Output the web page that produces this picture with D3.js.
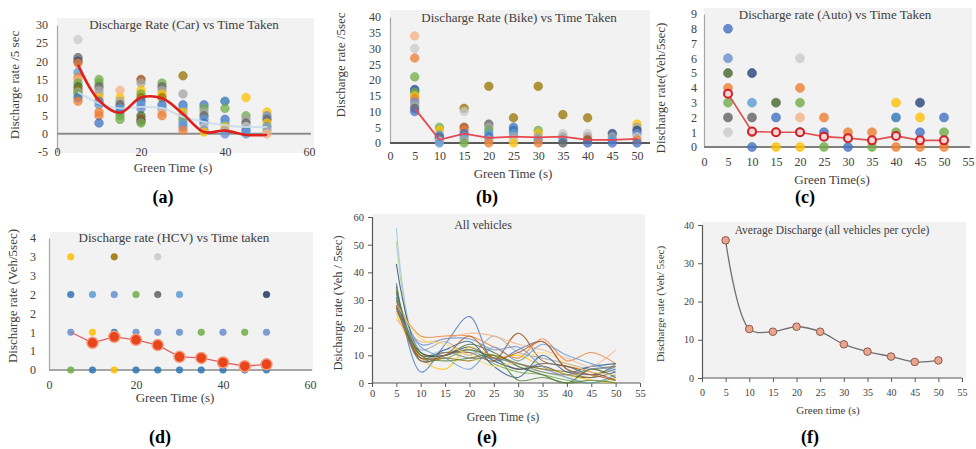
<!DOCTYPE html>
<html><head><meta charset="utf-8">
<script src="https://cdn.jsdelivr.net/npm/d3@7"></script>
<style>
body{margin:0;background:#fff}
svg{display:block}
text{font-family:"Liberation Serif","Times New Roman",serif;fill:#404040}
</style>
</head><body>
<svg id="c" width="976" height="449"></svg>
<script>
const greenTimes = [5,10,15,20,25,30,35,40,45,50];
const palette = ["#4472C4","#ED7D31","#A5A5A5","#FFC000","#5B9BD5","#70AD47","#264478","#9E480E",
  "#636363","#997300","#698ED0","#43682B","#F4B183","#C9C9C9","#1F3864","#2E75B6"];

// [green time, value, colour index]
const carPoints = [
 [5,26,13],[5,21,8],[5,20,6],[5,19.5,1],[5,17,4],[5,15.5,1],[5,15,12],[5,14,5],[5,13,11],[5,12,9],[5,11.5,2],[5,11,5],[5,10,0],[5,9,1],
 [10,15,5],[10,14,5],[10,13,8],[10,12,2],[10,11,2],[10,10,3],[10,9,0],[10,8,4],[10,6,1],[10,5,1],[10,3,0],
 [15,12,12],[15,10,3],[15,9,2],[15,8,8],[15,7,4],[15,6,0],[15,5,5],[15,4,5],
 [20,15,7],[20,14,2],[20,12,3],[20,11,5],[20,10,9],[20,9,0],[20,8,4],[20,7,10],[20,5,11],[20,4,7],[20,3.5,8],[20,3,5],
 [25,14,5],[25,13,8],[25,12,2],[25,11,3],[25,10,9],[25,8,0],[25,7,4],[25,6,12],[25,5,1],
 [30,16,9],[30,11,2],[30,8,0],[30,7,4],[30,6,3],[30,5,2],[30,4,5],[30,3,4],[30,2,10],[30,1,1],
 [35,8,0],[35,7,5],[35,6,2],[35,5,8],[35,4,4],[35,3,0],[35,2,13],[35,1,10],[35,0.5,3],
 [40,9,15],[40,7,5],[40,4,0],[40,3,4],[40,2,3],[40,1,2],[40,0,10],
 [45,10,3],[45,5,5],[45,4,2],[45,3,8],[45,2,13],[45,1,0],[45,0,4],
 [50,6,3],[50,5,10],[50,4,8],[50,3,3],[50,2,4],[50,1,2],[50,0,12]
];
const carTrend = [19,9.2,5.8,10,9.8,5.5,0.5,0.9,-0.3,-0.3];
const carMean  = [11.5,8.4,7,7.4,7.1,4.7,3.3,2.4,1.9,1.9];

const bikePoints = [
 [5,34,12],[5,30,13],[5,27,1],[5,21,5],[5,17,6],[5,16.5,0],[5,16,5],[5,15,3],[5,14,1],[5,13,10],[5,12,2],[5,11,8],[5,10,0],
 [10,5,5],[10,4,3],[10,2.5,4],[10,2,0],[10,1.5,8],[10,1,10],[10,0.5,13],[10,0,4],
 [15,11,9],[15,10,13],[15,5,7],[15,4,1],[15,3,0],[15,2,4],[15,1,2],[15,0,5],
 [20,18,9],[20,6,8],[20,5,2],[20,4,5],[20,3,4],[20,2,0],[20,1,2],[20,0,1],
 [25,8,9],[25,5,0],[25,4,15],[25,3,4],[25,2,2],[25,1,13],[25,0,3],
 [30,18,9],[30,4,5],[30,3,3],[30,2,2],[30,1,4],[30,0,1],
 [35,9,9],[35,3,13],[35,2,2],[35,1,4],[35,0,8],
 [40,8,9],[40,3,13],[40,2,2],[40,1,7],[40,0,0],
 [45,3,6],[45,2,2],[45,1,4],[45,0,0],
 [50,6,3],[50,5,2],[50,4,6],[50,3,10],[50,2,13],[50,1,1],[50,0,0]
];
const bikeTrend = [11,1,3,1.6,2,1.8,2,1,1,1.3];

const autoPoints = [
 [5,8,0],[5,6,10],[5,5,11],[5,4,1],[5,3,5],[5,2,8],[5,1,13],
 [10,5,6],[10,3,4],[10,2,8],[10,1,1],[10,0,0],
 [15,3,11],[15,2,0],[15,1,1],[15,0,3],
 [20,6,13],[20,4,1],[20,3,5],[20,2,12],[20,1,0],[20,0,3],
 [25,2,1],[25,1,0],[25,0,5],
 [30,1,1],[30,0,0],
 [35,1,1],[35,0,5],
 [40,3,3],[40,2,15],[40,1,5],[40,0,1],
 [45,3,6],[45,2,3],[45,1,0],[45,0,1],
 [50,2,0],[50,1,5],[50,0,1]
];
const autoTrend = [3.6,1.05,1.0,1.0,0.7,0.6,0.45,0.75,0.45,0.45];

const hcvPoints = [
 [5,3,3],[5,2,15],[5,1,10],[5,0,5],
 [10,2,4],[10,1,3],[10,0,15],
 [15,3,9],[15,2,10],[15,1,15],[15,0,3],
 [20,2,5],[20,1,10],[20,0,15],
 [25,3,13],[25,2,8],[25,1,10],[25,0,15],
 [30,2,4],[30,1,10],[30,0,15],
 [35,1,5],[35,0,15],
 [40,1,10],[40,0,15],
 [45,1,5],[45,0,15],
 [50,2,14],[50,1,10],[50,0,15]
];
const hcvTrend = [1.0,0.72,0.88,0.8,0.66,0.35,0.32,0.2,0.1,0.15];

const allColors = ["#9DC3E6","#A9D18E","#264478","#4472C4","#70AD47","#ED7D31","#9E480E","#FFC000","#A5A5A5","#997300",
  "#255E91","#43682B","#F4B183","#698ED0","#636363","#FFD966","#5B9BD5","#548235","#C55A11","#7F7F7F"];
const allSeries = [
 [56,10,12,11,9,7,5,3,6,5],
 [51,9,11,12,10,6,4,2,0,1],
 [43,11,10,13,8,5,6,3,2,4],
 [36,4,14,24,8,12,15,5,3,6],
 [34,10,9,12,7,4,3,1,0,2],
 [29,17,17,17,13,9,16,8,11,7],
 [28,10,11,11,8,18,8,6,4,1],
 [25,9,5,13,9,10,6,3,1,0],
 [30,12,15,10,17,11,9,7,5,6],
 [33,8,9,8,10,7,5,4,2,7],
 [31,9,12,15,6,2,10,4,6,7],
 [27,11,10,14,11,6,3,0,5,2],
 [23,15,16,18,17,14,12,9,6,12],
 [32,14,16,16,12,13,6,2,0,3],
 [35,8,10,12,9,5,7,6,3,5],
 [29,16,14,10,6,8,11,7,4,3],
 [26,13,9,5,13,8,14,10,7,4],
 [33,10,8,9,10,1,2,0,1,0],
 [28,9,10,17,9,11,15,5,3,1],
 [30,8,11,9,9,7,4,3,5,6]
];
const avgDischarge = [36,12.8,12.1,13.4,12.1,8.8,6.9,5.6,4.2,4.6];

const ticksA_x=[0,20,40,60], ticksA_y=[-5,0,5,10,15,20,25,30];
const ticksB_x=d3.range(0,55,5), ticksB_y=d3.range(0,45,5);
const ticksC_x=d3.range(0,60,5), ticksC_y=d3.range(0,10,1);
const ticksD_x=[0,20,40,60], ticksD_y=[0,0.5,1,1.5,2,2.5,3,3.5];
const ticksE_x=d3.range(0,60,5), ticksE_y=[0,10,20,30,40,50,60];
const ticksF_x=d3.range(0,60,5), ticksF_y=[0,10,20,30,40];

const svg = d3.select("#c");

function panel(o){
  const x = d3.scaleLinear().domain(o.xd).range(o.xr);
  const y = d3.scaleLinear().domain(o.yd).range(o.yr);
  const g = svg.append("g");
  g.append("rect").attr("x",o.bg[0]).attr("y",o.bg[1]).attr("width",o.bg[2]-o.bg[0]).attr("height",o.bg[3]-o.bg[1]).attr("fill","#F2F2F2");
  // y axis
  const ya = d3.axisLeft(y).tickValues(o.yt).tickSize(o.tick||0).tickPadding(o.ypad).tickFormat(o.yfmt||(d=>d));
  const yg = g.append("g").attr("transform",`translate(${o.xr[0]},0)`).call(ya);
  yg.select(".domain").attr("stroke",o.ycol||"#A6A6A6").attr("stroke-width",1.2);
  yg.selectAll(".tick line").attr("stroke","#595959");
  yg.selectAll("text").attr("font-size",o.fs).attr("font-family",'"Liberation Serif",serif').attr("fill",o.tcol||"#404040");
  // x axis labels
  const xa = d3.axisBottom(x).tickValues(o.xt).tickSize(o.tick||0).tickPadding(0).tickFormat(d=>d);
  const xg = g.append("g").attr("transform",`translate(0,${o.xaxisY})`).call(xa);
  xg.select(".domain").remove();
  xg.selectAll(".tick line").attr("stroke","#595959");
  xg.selectAll("text").attr("font-size",o.fs).attr("font-family",'"Liberation Serif",serif').attr("fill",o.tcol||"#404040")
    .attr("dy",null).attr("y",o.xlabY-o.xaxisY);
  // baseline axis line
  g.append("line").attr("x1",o.xr[0]).attr("x2",o.lineEnd).attr("y1",y(o.base)).attr("y2",y(o.base))
    .attr("stroke",o.baseCol).attr("stroke-width",o.baseW);
  // titles
  g.append("text").attr("x",o.title[0]).attr("y",o.title[1]).attr("text-anchor","middle").attr("font-size",o.title[3]).text(o.title[2]);
  g.append("text").attr("x",o.xtitle[0]).attr("y",o.xtitle[1]).attr("text-anchor","middle").attr("font-size",o.xtitle[3]).text(o.xtitle[2]);
  g.append("text").attr("transform",`translate(${o.ytitle[0]},${o.ytitle[1]}) rotate(-90)`).attr("text-anchor","middle")
    .attr("dominant-baseline","central").attr("font-size",o.ytitle[3]).text(o.ytitle[2]);
  g.append("text").attr("x",o.lab[0]).attr("y",o.lab[1]).attr("text-anchor","middle").attr("font-size",18)
    .attr("font-weight","bold").attr("fill","#000").style("fill","#000").text(o.lab[2]);
  return {x,y,g};
}

function scatter(p, pts, r, op){
  p.g.append("g").selectAll("circle").data(pts).join("circle")
   .attr("cx",d=>p.x(d[0])).attr("cy",d=>p.y(d[1])).attr("r",r)
   .attr("fill",d=>palette[d[2]]).attr("fill-opacity",op).attr("stroke",d=>palette[d[2]]).attr("stroke-opacity",0.5).attr("stroke-width",1);
}
function line(p, vals, col, w, curve, op){
  const gen = d3.line().x((d,i)=>p.x(greenTimes[i])).y(d=>p.y(d)).curve(curve);
  p.g.append("path").attr("d",gen(vals)).attr("fill","none").attr("stroke",col).attr("stroke-width",w).attr("stroke-opacity",op||1);
}

// (a)
const A = panel({xd:[0,60],xr:[57,309],yd:[-5,30],yr:[152,25],bg:[57,18,314,153],yt:ticksA_y,xt:ticksA_x,ypad:9,fs:12,
  xaxisY:152,xlabY:156,base:0,baseCol:"#8C8C8C",baseW:2,lineEnd:311,
  title:[184,29,"Discharge Rate (Car) vs Time Taken",13],xtitle:[173,172,"Green Time (s)",13],
  ytitle:[14,85,"Discharge rate /5 sec",13],lab:[163,203,"(a)"]});
scatter(A, carPoints, 4.3, 0.75);
line(A, carMean, "#C9DCEC", 2, d3.curveCatmullRom.alpha(0.5), 0.9);
line(A, carTrend, "#E0201B", 2.6, d3.curveCatmullRom.alpha(0.5));

// (b)
const B = panel({xd:[0,50],xr:[390,637],yd:[0,40],yr:[143,17],bg:[390,10,650,144],yt:ticksB_y,xt:ticksB_x,ypad:9,fs:12,
  xaxisY:143,xlabY:160,base:0,baseCol:"#595959",baseW:2,lineEnd:650,
  title:[519,22,"Discharge Rate (Bike) vs Time Taken",13],xtitle:[513,178,"Green Time (s)",13],
  ytitle:[340,65,"Discharge rate /5sec",13],lab:[487,203,"(b)"]});
scatter(B, bikePoints, 4.3, 0.75);
line(B, bikeTrend, "#E8484E", 1.8, d3.curveLinear);

// (c)
const C = panel({xd:[0,55],xr:[704,968],yd:[0,9],yr:[147,14],bg:[704,8,972,148],yt:ticksC_y,xt:ticksC_x,ypad:7,fs:12,
  xaxisY:147,xlabY:166,base:0,baseCol:"#7F7F7F",baseW:2,lineEnd:970,
  title:[835,19,"Discharge rate (Auto) vs Time Taken",13],xtitle:[832,184,"Green Time(s)",13],
  ytitle:[660,88,"Discharge rate(Veh/5sec)",13],lab:[805,203,"(c)"]});
scatter(C, autoPoints, 4.5, 0.8);
line(C, autoTrend, "#E05050", 1.6, d3.curveLinear);
C.g.append("g").selectAll("circle").data(autoTrend).join("circle")
  .attr("cx",(d,i)=>C.x(greenTimes[i])).attr("cy",d=>C.y(d)).attr("r",4)
  .attr("fill","#F6D5D5").attr("stroke","#D0202A").attr("stroke-width",2);

// (d)
const D = panel({xd:[0,60],xr:[49,310],yd:[0,3.5],yr:[370,238],bg:[50,232,313,371],yt:ticksD_y,xt:ticksD_x,ypad:13,fs:12,
  yfmt:d=>Math.round(d+1e-9),
  xaxisY:370,xlabY:389,base:0,baseCol:"#A6A6A6",baseW:2,lineEnd:312,
  title:[174,242,"Discharge rate (HCV) vs Time taken",13],xtitle:[175,402,"Green Time (s)",13],
  ytitle:[12,296,"Discharge rate  (Veh/5sec)",13],lab:[160,443,"(d)"]});
scatter(D, hcvPoints, 3.3, 0.85);
line(D, hcvTrend, "#E06060", 1.3, d3.curveLinear);
D.g.append("g").selectAll("circle").data(hcvTrend.slice(1)).join("circle")
  .attr("cx",(d,i)=>D.x(greenTimes[i+1])).attr("cy",d=>D.y(d)).attr("r",5.5)
  .attr("fill","#E8451C").attr("stroke","#F59A7A").attr("stroke-width",1.5);

// (e)
const E = panel({xd:[0,55],xr:[372,640],yd:[0,60],yr:[383,217],bg:[372,214,645,383],yt:ticksE_y,xt:ticksE_x,ypad:4,fs:10.5,tick:4,
  xaxisY:383,xlabY:397,base:0,baseCol:"#595959",baseW:1,lineEnd:640,ycol:"#595959",tcol:"#595959",
  title:[483,229,"All vehicles",12],xtitle:[503,421,"Green Time (s)",12],
  ytitle:[338,303,"Dsicharge rate (Veh / 5sec)",12.5],lab:[487,443,"(e)"]});
allSeries.forEach((s,i)=>line(E, s, allColors[i], 1.1, d3.curveCatmullRom.alpha(0.5), 0.8));

// (f)
const F = panel({xd:[0,55],xr:[702,962],yd:[0,40],yr:[378,225],bg:[702,222,966,378],yt:ticksF_y,xt:ticksF_x,ypad:4,fs:10,tick:4,
  xaxisY:378,xlabY:396,base:0,baseCol:"#595959",baseW:1,lineEnd:962,ycol:"#595959",tcol:"#595959",
  title:[832,234,"Average Discharge (all vehicles per cycle)",11.5],xtitle:[828,414,"Green time (s)",11],
  ytitle:[660,304,"Discharge rate (Veh/ 5sec)",11],lab:[810,443,"(f)"]});
line(F, avgDischarge, "#707070", 1.3, d3.curveCatmullRom.alpha(0.5));
F.g.append("g").selectAll("circle").data(avgDischarge).join("circle")
  .attr("cx",(d,i)=>F.x(greenTimes[i])).attr("cy",d=>F.y(d)).attr("r",3.8)
  .attr("fill","#E9A58E").attr("stroke","#8B5A4A").attr("stroke-width",1);
</script>
</body></html>
